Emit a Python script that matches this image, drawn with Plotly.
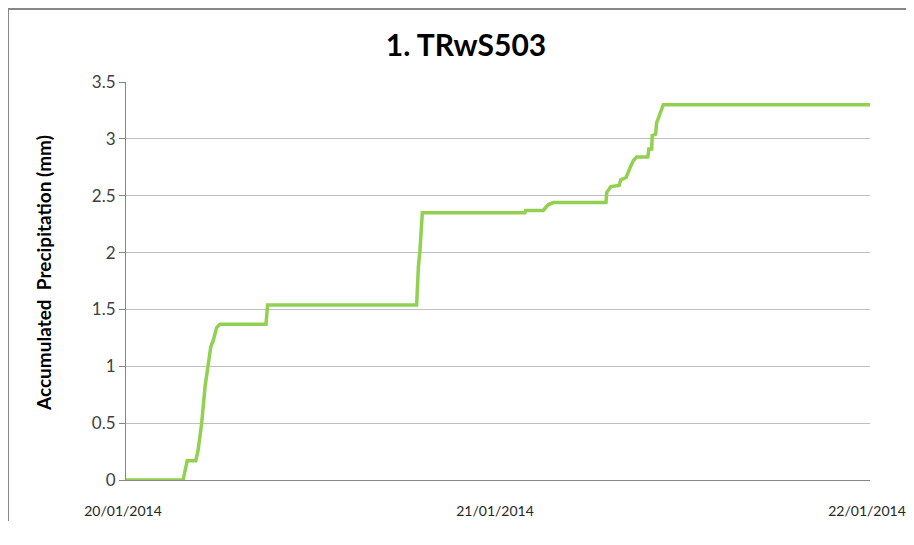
import plotly.graph_objects as go

# Накопленные осадки, станция TRwS503
times = [
    "2014-01-20 00:00", "2014-01-20 03:41", "2014-01-20 03:57", "2014-01-20 04:30",
    "2014-01-20 04:39", "2014-01-20 04:53", "2014-01-20 05:06", "2014-01-20 05:16",
    "2014-01-20 05:28", "2014-01-20 05:38", "2014-01-20 05:51", "2014-01-20 06:04",
    "2014-01-20 09:02", "2014-01-20 09:08", "2014-01-20 18:45", "2014-01-20 18:52",
    "2014-01-20 18:58", "2014-01-20 19:07", "2014-01-21 01:44", "2014-01-21 01:47",
    "2014-01-21 02:55", "2014-01-21 03:14", "2014-01-21 03:34", "2014-01-21 06:58",
    "2014-01-21 07:01", "2014-01-21 07:17", "2014-01-21 07:49", "2014-01-21 07:55",
    "2014-01-21 08:16", "2014-01-21 08:28", "2014-01-21 08:44", "2014-01-21 08:57",
    "2014-01-21 09:40", "2014-01-21 09:44", "2014-01-21 09:55", "2014-01-21 09:57",
    "2014-01-21 10:10", "2014-01-21 10:14", "2014-01-21 10:24", "2014-01-21 10:40",
    "2014-01-22 00:00",
]
precip = [
    0, 0, 0.17, 0.17,
    0.26, 0.50, 0.82, 1.00,
    1.17, 1.23, 1.34, 1.37,
    1.37, 1.54, 1.54, 1.88,
    2.02, 2.35, 2.35, 2.37,
    2.37, 2.42, 2.44, 2.44,
    2.53, 2.58, 2.59, 2.64,
    2.66, 2.73, 2.81, 2.84,
    2.84, 2.91, 2.91, 3.03,
    3.04, 3.14, 3.20, 3.30,
    3.30,
]

title = "1. TRwS503"
y_label = "Accumulated\u00a0 Precipitation (mm)"
x_range = ["2014-01-20", "2014-01-22"]
y_ticks = [0, 0.5, 1, 1.5, 2, 2.5, 3, 3.5]

FONT = "Lato, 'Open Sans', sans-serif"
AXIS_COLOR = "#868686"

# страница html сдвигает фигуру на 8px (отступ body), компенсируем;
# высоту уменьшаем, чтобы не появлялась полоса прокрутки
OFF = 8
W, H = 914 - OFF, 545 - 4 * OFF
L, T = 126 - OFF, 82 - OFF
PW, PH = 744, 398

fig = go.Figure()
fig.add_trace(go.Scatter(
    x=times,
    y=precip,
    mode="lines",
    line=dict(color="#92D050", width=3.5),
    showlegend=False,
))

fig.update_layout(
    width=W,
    height=H,
    paper_bgcolor="white",
    plot_bgcolor="white",
    margin=dict(l=L, r=W - L - PW, t=T, b=H - T - PH),
    font=dict(family=FONT, color="#404040", size=17),
    title=dict(
        text=title,
        x=(466 - OFF) / W, xref="container", xanchor="center",
        y=1 - (45 - OFF) / H, yref="container", yanchor="middle",
        font=dict(family=FONT, size=30, color="black", weight="bold"),
    ),
    xaxis=dict(
        type="date",
        range=x_range,
        dtick=86400000,
        tick0="2014-01-20",
        tickformat="%d/%m/%Y",
        showgrid=False,
        showline=True,
        linecolor=AXIS_COLOR,
        linewidth=1,
        ticks="",
        ticklabelstandoff=18,
        ticklabelshift=-3,
        ticklabeloverflow="allow",
        tickfont=dict(color="#262626", size=14),
        zeroline=False,
        automargin=False,
    ),
    yaxis=dict(
        range=[0, 3.5],
        tickvals=y_ticks,
        showgrid=True,
        gridcolor="#BFBFBF",
        gridwidth=1,
        showline=True,
        linecolor=AXIS_COLOR,
        linewidth=1,
        ticks="outside",
        ticklen=6,
        tickcolor=AXIS_COLOR,
        tickfont=dict(color="#404040", size=17),
        zeroline=False,
        automargin=False,
    ),
)

# подпись оси Y
fig.add_annotation(
    text=y_label,
    xref="paper", yref="paper",
    x=(43 - 126) / PW, y=(480 - 273) / PH,
    xanchor="center", yanchor="middle",
    textangle=-90, showarrow=False,
    font=dict(family=FONT, size=19, color="black", weight="bold"),
)

# рамка диаграммы, как в Excel (правая и нижняя стороны за пределами кадра)
fig.add_shape(
    type="rect", xref="paper", yref="paper",
    x0=(8 - 126) / PW, x1=(930 - 126) / PW,
    y0=(480 - 560) / PH, y1=(480 - 9) / PH,
    line=dict(color="#878787", width=2),
    fillcolor="rgba(0,0,0,0)",
    layer="below",
)

fig.write_html("out.html")
